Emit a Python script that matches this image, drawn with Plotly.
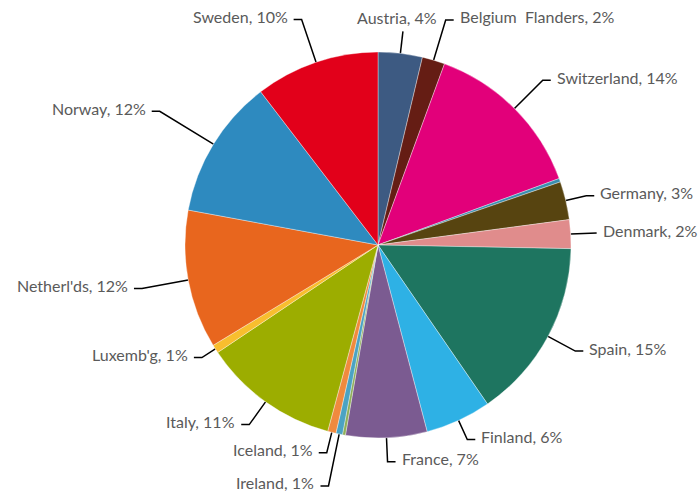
import math
import plotly.graph_objects as go

# Share of respondents by country (percent), clockwise from 12 o'clock
countries = ["Austria", "Belgium\u00a0\u00a0Flanders", "Switzerland", "Cyprus", "Germany",
             "Denmark", "Spain", "Finland", "France", "Greece", "Ireland", "Iceland",
             "Italy", "Luxemb'g", "Netherl'ds", "Norway", "Sweden"]
shares = [3.7, 1.9, 13.8, 0.3, 3.2, 2.4, 15.1, 5.5, 6.8, 0.25, 0.55, 0.7,
          11.4, 0.7, 11.6, 11.7, 10.4]
colors = ["#3d5a82", "#651d14", "#e2007a", "#3a8fb0", "#574410", "#e08c8c",
          "#1e7560", "#2eb1e5", "#7b5b91", "#8fae5a", "#4ba3c3", "#f08a3e",
          "#9cad00", "#f8be2e", "#e8661e", "#2e8abf", "#e2001a"]

# ---- layout geometry (pixels) ----
W, H = 698, 495
CX, CY, R = 378, 245, 193
# how far each leader line reaches beyond the rim before its elbow
leader_ext = {"Austria": 22, "Belgium\u00a0\u00a0Flanders": 42, "Switzerland": 40,
              "Germany": 21, "Denmark": 18, "Spain": 31, "Finland": 21, "France": 24,
              "Ireland": 53, "Iceland": 21, "Italy": 28, "Luxemb'g": 16,
              "Netherl'ds": 47, "Norway": 63, "Sweden": 45}
ELBOW = 8
GAP = 4
FONT = "Lato, 'Open Sans', sans-serif"

fig = go.Figure()

fig.add_trace(go.Pie(
    labels=countries, values=shares, sort=False, direction="clockwise", rotation=0,
    marker=dict(colors=colors, line=dict(color="rgba(255,255,255,0.6)", width=0.6)),
    textinfo="none", hoverinfo="skip", showlegend=False,
    domain=dict(x=[(CX - R) / W, (CX + R) / W], y=[1 - (CY + R) / H, 1 - (CY - R) / H]),
))

total = sum(shares)
lx, ly = [], []
annotations = []
cum = 0.0
for name, v in zip(countries, shares):
    pct = v / total * 100
    theta = math.radians((cum + v / 2) / total * 360)
    cum += v
    shown = math.floor(pct + 0.5)
    if shown < 1:
        continue
    s, c = math.sin(theta), math.cos(theta)
    ext = leader_ext[name]
    x0, y0 = CX + R * s, CY - R * c
    x1, y1 = CX + (R + ext) * s, CY - (R + ext) * c
    text = f"{name}, {shown}%"
    if abs(s) < 0.15 and c > 0:
        lx += [x0, x1, None]
        ly += [y0, y1, None]
        annotations.append(dict(x=x1 - 6, y=y1 - 2, text=text, xref="x", yref="y",
                                showarrow=False, xanchor="center", yanchor="bottom"))
    else:
        side = 1 if s > 0 else -1
        x2 = x1 + side * ELBOW
        lx += [x0, x1, x2, None]
        ly += [y0, y1, y1, None]
        annotations.append(dict(x=x2 + side * GAP, y=y1, yshift=3, text=text,
                                xref="x", yref="y", showarrow=False,
                                xanchor="left" if side > 0 else "right",
                                yanchor="middle"))

fig.add_trace(go.Scatter(x=lx, y=ly, mode="lines", line=dict(color="#000000", width=1.5),
                         hoverinfo="skip", showlegend=False))

fig.update_layout(
    width=W, height=H, margin=dict(l=0, r=0, t=0, b=0),
    paper_bgcolor="white", plot_bgcolor="rgba(0,0,0,0)",
    font=dict(family=FONT, size=16, color="#5a5a5a"),
    xaxis=dict(range=[0, W], visible=False, fixedrange=True),
    yaxis=dict(range=[H, 0], visible=False, fixedrange=True),
    annotations=annotations,
)

fig.write_html("out.html")
